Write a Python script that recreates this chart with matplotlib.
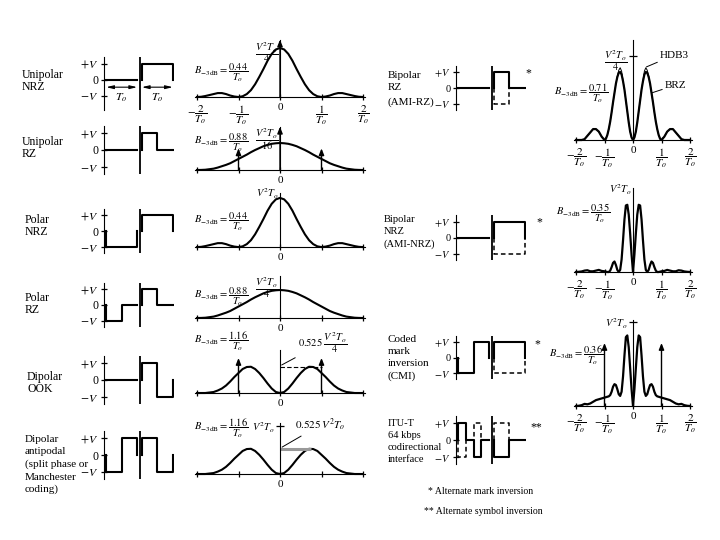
import matplotlib
matplotlib.use('Agg')
import matplotlib.pyplot as plt
import numpy as np

plt.rcParams['font.family'] = ['Liberation Serif', 'DejaVu Serif']
plt.rcParams['mathtext.fontset'] = 'stix'
plt.rcParams['font.size'] = 8.5

# ---- waveform data: levels per sub-interval for (left bit, right bit), +1 = +V
unrz_wave = ([0], [1])
urz_wave = ([0], [1, 0])
pnrz_wave = ([-1], [1])
prz_wave = ([-1, 0], [1, 0])
ook_wave = ([0], [1, -1])
manch_wave = ([-1, 1], [1, -1])
brz_wave, brz_alt = ([0], [1, 0]), (None, [-1, 0])
bnrz_wave, bnrz_alt = ([0], [1]), (None, [-1])
cmi_wave, cmi_alt = ([-1, 1], [1]), (None, [-1])
itu_wave, itu_alt = ([1, 0, -1, 0], [-1, 0]), ([-1, 0, 1, 0], [1, 0])

# ---- spectra (f in units of 1/To)
f_left = np.linspace(-2, 2, 41)
nrz_psd = [0, .005, .02, .04, .06, .08, .08, .06, .03, .01, 0, .015, .06, .14, .26, .41, .57, .74, .88, .97,
           1, .97, .88, .74, .57, .41, .26, .14, .06, .015, 0, .01, .03, .06, .08, .08, .06, .04, .02, .005, 0]
rz_psd = [0, .003, .01, .03, .05, .09, .14, .19, .25, .33, .41, .49, .57, .66, .74, .81, .88, .93, .97, .99,
          1, .99, .97, .93, .88, .81, .74, .66, .57, .49, .41, .33, .25, .19, .14, .09, .05, .03, .01, .003, 0]
dip_psd = [0, 0, 0, .01, .02, .05, .09, .15, .23, .32, .40, .48, .52, .525, .48, .40, .30, .19, .09, .02,
           0, .02, .09, .19, .30, .40, .48, .525, .52, .48, .40, .32, .23, .15, .09, .05, .02, .01, 0, 0, 0]

f_right = np.concatenate([np.linspace(-2, -1.1, 10), np.linspace(-1, 1, 41), np.linspace(1.1, 2, 10)])
brz_psd = [0, 0, 0, .01, .05, .09, .13, .13, .10, .04,
           0, .015, .06, .13, .22, .33, .45, .56, .67, .75, .80, .81, .78, .70, .60, .47, .34, .21, .10, .03,
           0,
           .03, .10, .21, .34, .47, .60, .70, .78, .81, .80, .75, .67, .56, .45, .33, .22, .13, .06, .015, 0,
           .04, .10, .13, .13, .09, .05, .01, 0, 0, 0]
hdb3_psd = [0, 0, 0, .01, .05, .09, .13, .13, .10, .04,
            0, .015, .06, .13, .22, .33, .45, .56, .67, .76, .83, .86, .82, .71, .60, .47, .34, .21, .10, .03,
            0,
            .03, .10, .21, .34, .47, .60, .71, .82, .86, .83, .76, .67, .56, .45, .33, .22, .13, .06, .015, 0,
            .04, .10, .13, .13, .09, .05, .01, 0, 0, 0]
bnrz_psd = [0, .003, .008, .02, .025, .01, .01, .02, .03, .015,
            .01, .005, 0, 0, .02, .07, .13, .15, .10, .03, 0, .03, .18, .45, .75, .95, .96, .82, .55, .25,
            0,
            .25, .55, .82, .96, .95, .75, .45, .18, .03, 0, .03, .10, .15, .13, .07, .02, 0, 0, .005, .01,
            .015, .03, .02, .01, .01, .025, .02, .008, .003, 0]
cmi_psd = [0, .003, .01, .025, .02, .03, .05, .07, .08, .09,
           .10, .105, .11, .115, .13, .17, .23, .26, .25, .20, .14, .12, .17, .35, .60, .82, .84, .70, .45, .20,
           0,
           .20, .45, .70, .84, .82, .60, .35, .17, .12, .14, .20, .25, .26, .23, .17, .13, .115, .11, .105, .10,
           .09, .08, .07, .05, .03, .02, .025, .01, .003, 0]

frac_ticks = [r'$-\dfrac{2}{T_o}$', r'$-\dfrac{1}{T_o}$', '0', r'$\dfrac{1}{T_o}$', r'$\dfrac{2}{T_o}$']
zero_ticks = ['', '', '0', '', '']

W, H = 720, 540
fig = plt.figure(figsize=(7.2, 5.4), dpi=100)


def box(l, t, r, b):
    ax = fig.add_axes([l / W, 1 - b / H, (r - l) / W, (b - t) / H])
    ax.patch.set_alpha(0)
    return ax


def spec_ax(cx, unit, base, scale, ytop, ylab, ylab_at, tick=False, xlabels=zero_ticks):
    ybot = -0.1
    ax = box(cx - 2.06 * unit, base - ytop * scale, cx + 2.06 * unit, base - ybot * scale)
    ax.set_xlim(-2.06, 2.06)
    ax.set_ylim(ybot, ytop)
    for s in ['top', 'right']:
        ax.spines[s].set_visible(False)
    ax.spines['bottom'].set_position(('data', 0))
    ax.spines['left'].set_position(('data', 0))
    ax.spines['left'].set_bounds(0, ytop)
    ax.set_xticks([-2, -1, 0, 1, 2])
    ax.set_xticklabels(xlabels, fontsize=8)
    ax.set_yticks([ylab_at] if ylab else [])
    if ylab:
        ax.set_yticklabels([ylab], fontsize=7.5)
    ax.tick_params(axis='x', direction='inout', length=5, width=0.9, pad=2)
    ax.tick_params(axis='y', direction='inout', length=6 if tick else 0, width=0.9, pad=1)
    return ax


def impulses(ax, fs, hs):
    for f, h in zip(fs, hs):
        ax.annotate('', xy=(f, h), xytext=(f, 0),
                    arrowprops=dict(arrowstyle='-|>,head_width=0.18,head_length=0.45',
                                    color='k', lw=1.0, shrinkA=0, shrinkB=0))


def wave_ax(xa, z, v, ylo=-1.4, yhi=1.4, size=8.5):
    ax = box(xa, z - yhi * v, xa + 2.27 * 31, z - ylo * v)
    ax.set_xlim(-0.07, 2.2)
    ax.set_ylim(ylo, yhi)
    for s in ['top', 'right', 'bottom']:
        ax.spines[s].set_visible(False)
    ax.set_xticks([])
    ax.set_yticks([1, 0, -1])
    ax.set_yticklabels([r'$+V$', '0', r'$-V$'], fontsize=size)
    ax.tick_params(axis='y', direction='inout', length=4, width=0.9, pad=2)
    ax.axvline(1.08, color='k', lw=1.3)
    return ax


def draw_bits(ax, bits, dashed=False):
    for t0, lev in zip([0, 1.15], bits):
        if lev is None:
            continue
        edges = t0 + np.linspace(0, 1, len(lev) + 1)
        xs = np.repeat(edges, 2)
        ys = np.concatenate([[0], np.repeat(lev, 2), [0]])
        if dashed:
            ax.plot(xs, ys, color='k', lw=1.1, ls=(0, (3, 2)))
        else:
            ax.plot(xs, ys, color='k', lw=1.5)


def label(x, y, s, size=8.5, ha='left'):
    fig.text(x / W, 1 - y / H, s, fontsize=size, ha=ha, va='center', linespacing=1.05)


def lines(x, ys, texts, size):
    for y, s in zip(ys, texts):
        label(x, y, s, size)


def b3db(x, y, num):
    label(x, y, r'$B_{-3\mathrm{dB}}=\dfrac{%s}{T_o}$' % num, 7.5, 'center')


# ---------------- left column ----------------
label(22, 81, 'Unipolar\nNRZ')
label(22, 148, 'Unipolar\nRZ')
label(25, 226, 'Polar\nNRZ')
label(25, 304, 'Polar\nRZ')
label(27, 383, 'Dipolar\nOOK')
lines(25, [440, 452, 464, 477, 489],
      ['Dipolar', 'antipodal', '(split phase or', 'Manchester', 'coding)'], 8)

ax = wave_ax(104, 79.5, 16, ylo=-1.9)
draw_bits(ax, unrz_wave)
for t0 in [0, 1.15]:
    ax.annotate('', xy=(t0, -0.48), xytext=(t0 + 1, -0.48),
                arrowprops=dict(arrowstyle='<|-|>,head_width=0.12,head_length=0.5', lw=0.8, color='k',
                                shrinkA=0, shrinkB=0))
    ax.text(t0 + 0.5, -1.15, r'$T_o$', ha='center', va='center', fontsize=8.5)
draw_bits(wave_ax(104, 150, 17), urz_wave)
draw_bits(wave_ax(104, 231, 16), pnrz_wave)
draw_bits(wave_ax(104, 305, 16), prz_wave)
draw_bits(wave_ax(104, 380, 17), ook_wave)
draw_bits(wave_ax(104, 455, 17), manch_wave)

ax = spec_ax(280, 41.5, 97, 49, 1.17, r'$\dfrac{V^2T_o}{4}$', 1.0, xlabels=frac_ticks)
ax.plot(f_left, nrz_psd, color='k', lw=1.5)
impulses(ax, [0], [1.17])
b3db(221, 73, '0.44')

ax = spec_ax(280, 41.5, 170, 27, 1.6, r'$\dfrac{V^2T_o}{16}$', 1.3)
ax.plot(f_left, rz_psd, color='k', lw=1.5)
impulses(ax, [-1, 0, 1], [0.8, 1.6, 0.8])
b3db(221, 143, '0.88')

ax = spec_ax(280, 41.5, 247, 50, 1.1, r'$V^2T_o$', 1.12)
ax.plot(f_left, nrz_psd, color='k', lw=1.5)
b3db(221, 222, '0.44')

ax = spec_ax(280, 41.5, 318, 28, 1.5, r'$\dfrac{V^2T_o}{4}$', 1.25)
ax.plot(f_left, rz_psd, color='k', lw=1.5)
b3db(221, 297, '0.88')

ax = spec_ax(280, 41.5, 393, 50, 0.86, None, 0)
ax.plot(f_left, dip_psd, color='k', lw=1.5)
impulses(ax, [-1, 1], [0.7, 0.7])
ax.hlines(0.525, 0, 1, color='k', lw=0.8, linestyles=(0, (4, 2)))
ax.annotate(r'$0.525\ \dfrac{V^2T_o}{4}$', xy=(0.04, 0.56), xytext=(298, H - 343),
            textcoords='figure pixels', va='center', fontsize=7.5,
            arrowprops=dict(arrowstyle='-', lw=0.7, color='k', shrinkA=0, shrinkB=0))
b3db(221, 341, '1.16')

ax = spec_ax(280, 41.5, 474, 48, 1.06, r'$V^2T_o$', 1.0, tick=True)
ax.plot(f_left, dip_psd, color='k', lw=1.5)
ax.hlines(0.525, 0, 0.75, color='0.6', lw=2.2)
ax.annotate(r'$0.525\,V^2T_o$', xy=(0.05, 0.56), xytext=(295, H - 425),
            textcoords='figure pixels', va='center', fontsize=8,
            arrowprops=dict(arrowstyle='-', lw=0.7, color='k', shrinkA=0, shrinkB=0))
b3db(221, 428, '1.16')

# ---------------- right column ----------------
lines(388, [76, 88, 102], ['Bipolar', 'RZ', '(AMI-RZ)'], 8)
lines(384, [220, 232, 244], ['Bipolar', 'NRZ', '(AMI-NRZ)'], 7.6)
lines(388, [340, 352, 364, 376], ['Coded', 'mark', 'inversion', '(CMI)'], 8)
lines(388, [424, 436, 448, 460], ['ITU-T', '64 kbps', 'codirectional', 'interface'], 7.5)

ax = wave_ax(456, 88, 16, size=7.5)
draw_bits(ax, brz_alt, dashed=True)
draw_bits(ax, brz_wave)
label(525, 73, '*')
ax = wave_ax(456, 237.5, 16, size=7.5)
draw_bits(ax, bnrz_alt, dashed=True)
draw_bits(ax, bnrz_wave)
label(536, 222, '*')
ax = wave_ax(456, 357.5, 15.5, size=7.5)
draw_bits(ax, cmi_alt, dashed=True)
draw_bits(ax, cmi_wave)
label(534, 344, '*')
ax = wave_ax(456, 440, 17, size=7.5)
draw_bits(ax, itu_alt, dashed=True)
draw_bits(ax, itu_wave)
label(530, 427, '**')

ax = spec_ax(633, 28.5, 140, 84, 1.19, r'$\dfrac{V^2T_o}{4}$', 1.0, tick=True, xlabels=frac_ticks)
ax.plot(f_right, hdb3_psd, color='k', lw=0.7)
ax.plot(f_right, brz_psd, color='k', lw=1.6)
ax.annotate('HDB3', xy=(0.47, 0.87), xytext=(660, H - 55), textcoords='figure pixels', va='center',
            fontsize=8, arrowprops=dict(arrowstyle='-', lw=0.7, color='k', shrinkA=0, shrinkB=0))
ax.annotate('BRZ', xy=(0.65, 0.56), xytext=(665, H - 85), textcoords='figure pixels', va='center',
            fontsize=8, arrowprops=dict(arrowstyle='-', lw=0.7, color='k', shrinkA=0, shrinkB=0))
b3db(581, 93, '0.71')

ax = spec_ax(633, 28.5, 272, 70, 1.2, r'$V^2T_o$', 1.2, xlabels=frac_ticks)
ax.plot(f_right, bnrz_psd, color='k', lw=1.6)
b3db(583, 213, '0.35')

ax = spec_ax(633, 28.5, 406, 84, 1.02, r'$V^2T_o$', 1.0, tick=True, xlabels=frac_ticks)
ax.plot(f_right, cmi_psd, color='k', lw=1.6)
impulses(ax, [-1, 1], [0.75, 0.75])
b3db(576, 355, '0.36')

label(428, 492, '* Alternate mark inversion', 7)
label(424, 511, '** Alternate symbol inversion', 7)

fig.savefig('out.png', dpi=100, facecolor='white')
